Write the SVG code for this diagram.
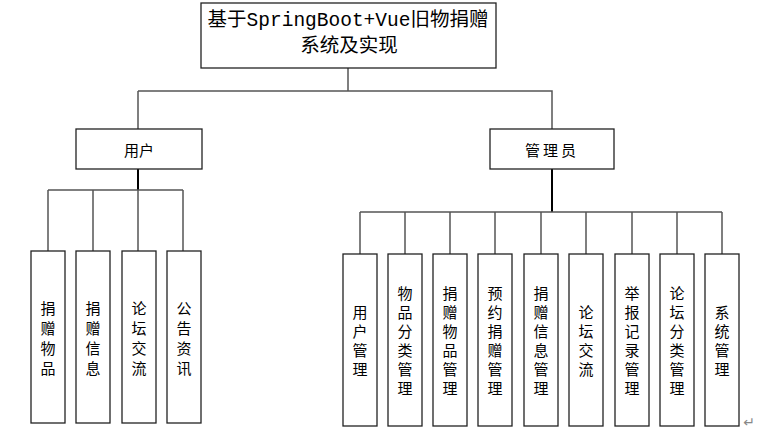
<svg xmlns="http://www.w3.org/2000/svg" width="760" height="434" viewBox="0 0 760 434">
<style>
.box{fill:#fff;stroke:#222;stroke-width:1.3}
.ln{fill:none;stroke:#555;stroke-width:1.5}
.tk{fill:none;stroke:#000;stroke-width:2}
.t{font-family:"Noto Sans CJK SC","Liberation Sans",sans-serif;font-size:15px;fill:#000;text-anchor:middle;dominant-baseline:central}
.title{font-family:"Liberation Mono","Noto Sans CJK SC",monospace;font-size:19.5px;fill:#000;text-anchor:middle;dominant-baseline:central}
</style>
<rect width="760" height="434" fill="#fff"/>
<g id="connectors">
<path class="ln" d="M348 68V91M138 91H552V129M138 91V129"/>
<path class="tk" d="M138 169V190"/>
<path class="ln" d="M48 190H183M48 190V251M93 190V251M138 190V251M183 190V251"/>
<path class="tk" d="M552 169V212"/>
<path class="ln" d="M360 212H722M360 212V254M405 212V254M450 212V254M495 212V254M541 212V254M586 212V254M632 212V254M677 212V254M722 212V254"/>
</g>
<g id="root"><rect class="box" x="201" y="3" width="295" height="65"/>
<text class="title" x="348" y="21">基于SpringBoot+Vue旧物捐赠</text>
<text class="title" x="349" y="47">系统及实现</text></g>
<g id="user"><rect class="box" x="76" y="129" width="126" height="40"/><text class="t" x="139" y="149" font-size="16">用户</text></g>
<g id="admin"><rect class="box" x="490" y="129" width="124" height="40"/><text class="t" x="552" y="149" font-size="16" letter-spacing="3">管理员</text></g>
<g id="u1"><rect class="box" x="31" y="251" width="34" height="172"/><text class="t" x="48"><tspan x="48" y="307">捐</tspan><tspan x="48" y="327">赠</tspan><tspan x="48" y="347">物</tspan><tspan x="48" y="367">品</tspan></text></g>
<g id="u2"><rect class="box" x="76" y="251" width="34" height="172"/><text class="t" x="93"><tspan x="93" y="307">捐</tspan><tspan x="93" y="327">赠</tspan><tspan x="93" y="347">信</tspan><tspan x="93" y="367">息</tspan></text></g>
<g id="u3"><rect class="box" x="122" y="251" width="34" height="172"/><text class="t" x="139"><tspan x="139" y="307">论</tspan><tspan x="139" y="327">坛</tspan><tspan x="139" y="347">交</tspan><tspan x="139" y="367">流</tspan></text></g>
<g id="u4"><rect class="box" x="167" y="251" width="34" height="172"/><text class="t" x="184"><tspan x="184" y="307">公</tspan><tspan x="184" y="327">告</tspan><tspan x="184" y="347">资</tspan><tspan x="184" y="367">讯</tspan></text></g>
<g id="a1"><rect class="box" x="343" y="254" width="34" height="172"/><text class="t"><tspan x="360" y="311">用</tspan><tspan x="360" y="330">户</tspan><tspan x="360" y="349">管</tspan><tspan x="360" y="368">理</tspan></text></g>
<g id="a2"><rect class="box" x="388" y="254" width="34" height="172"/><text class="t"><tspan x="405" y="292">物</tspan><tspan x="405" y="311">品</tspan><tspan x="405" y="330">分</tspan><tspan x="405" y="349">类</tspan><tspan x="405" y="368">管</tspan><tspan x="405" y="387">理</tspan></text></g>
<g id="a3"><rect class="box" x="433" y="254" width="34" height="172"/><text class="t"><tspan x="450" y="292">捐</tspan><tspan x="450" y="311">赠</tspan><tspan x="450" y="330">物</tspan><tspan x="450" y="349">品</tspan><tspan x="450" y="368">管</tspan><tspan x="450" y="387">理</tspan></text></g>
<g id="a4"><rect class="box" x="478" y="254" width="34" height="172"/><text class="t"><tspan x="495" y="292">预</tspan><tspan x="495" y="311">约</tspan><tspan x="495" y="330">捐</tspan><tspan x="495" y="349">赠</tspan><tspan x="495" y="368">管</tspan><tspan x="495" y="387">理</tspan></text></g>
<g id="a5"><rect class="box" x="524" y="254" width="34" height="172"/><text class="t"><tspan x="541" y="292">捐</tspan><tspan x="541" y="311">赠</tspan><tspan x="541" y="330">信</tspan><tspan x="541" y="349">息</tspan><tspan x="541" y="368">管</tspan><tspan x="541" y="387">理</tspan></text></g>
<g id="a6"><rect class="box" x="569" y="254" width="34" height="172"/><text class="t"><tspan x="586" y="311">论</tspan><tspan x="586" y="330">坛</tspan><tspan x="586" y="349">交</tspan><tspan x="586" y="368">流</tspan></text></g>
<g id="a7"><rect class="box" x="615" y="254" width="34" height="172"/><text class="t"><tspan x="632" y="292">举</tspan><tspan x="632" y="311">报</tspan><tspan x="632" y="330">记</tspan><tspan x="632" y="349">录</tspan><tspan x="632" y="368">管</tspan><tspan x="632" y="387">理</tspan></text></g>
<g id="a8"><rect class="box" x="660" y="254" width="34" height="172"/><text class="t"><tspan x="677" y="292">论</tspan><tspan x="677" y="311">坛</tspan><tspan x="677" y="330">分</tspan><tspan x="677" y="349">类</tspan><tspan x="677" y="368">管</tspan><tspan x="677" y="387">理</tspan></text></g>
<g id="a9"><rect class="box" x="705" y="254" width="34" height="172"/><text class="t"><tspan x="722" y="311">系</tspan><tspan x="722" y="330">统</tspan><tspan x="722" y="349">管</tspan><tspan x="722" y="368">理</tspan></text></g>
<text x="749" y="422" font-family="DejaVu Sans,sans-serif" font-size="14" fill="#888" text-anchor="middle" dominant-baseline="central">↵</text>
</svg>
